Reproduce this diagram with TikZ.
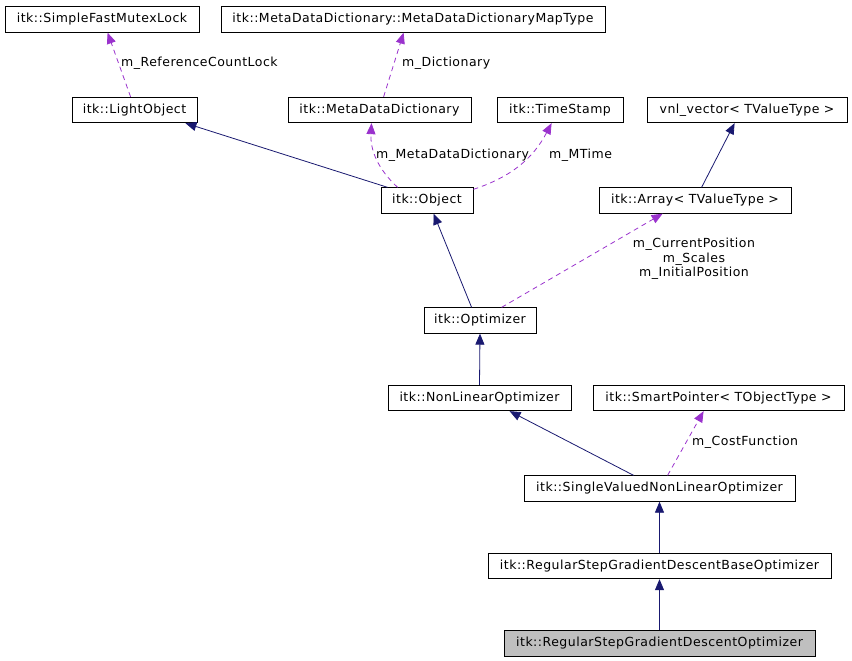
\documentclass[tikz,border=0pt]{standalone}
\usepackage{fontspec}
\setmainfont{DejaVu Sans}[LetterSpace=4]
\usetikzlibrary{arrows.meta}
\definecolor{inhblue}{HTML}{191970}
\definecolor{usepurple}{HTML}{9A32CD}

\begin{document}
\begin{tikzpicture}[x=1pt, y=-1pt,
    cls/.style={draw, line width=0.8pt, minimum height=25.5pt, inner sep=0pt,
                font=\fontsize{12.5}{15}\selectfont},
    lbl/.style={inner sep=0pt, font=\fontsize{12.5}{15}\selectfont},
    inherit/.style={draw=inhblue, line width=0.8pt, -{Triangle[length=11pt, width=9pt]}},
    member/.style={draw=usepurple, line width=0.8pt, dash pattern=on 5pt off 4pt,
                   -{Triangle[length=11pt, width=9pt]}}]
    \useasboundingbox (0,0) rectangle (852,661);

    % classes
    \node[cls, minimum width=194pt] (mutex) at (102,19.5) {itk::SimpleFastMutexLock};
    \node[cls, minimum width=384pt] (maptype) at (413,19.5) {itk::MetaDataDictionary::MetaDataDictionaryMapType};
    \node[cls, minimum width=125pt] (light) at (134.5,110) {itk::LightObject};
    \node[cls, minimum width=183pt] (mdd) at (379.5,110) {itk::MetaDataDictionary};
    \node[cls, minimum width=126pt] (stamp) at (560,110) {itk::TimeStamp};
    \node[cls, minimum width=200pt] (vnl) at (747,110) {vnl\_vector< TValueType >};
    \node[cls, minimum width=92pt] (obj) at (427,200.5) {itk::Object};
    \node[cls, minimum width=192pt] (arr) at (695,200.5) {itk::Array< TValueType >};
    \node[cls, minimum width=112pt] (opt) at (480,320.5) {itk::Optimizer};
    \node[cls, minimum width=183pt] (nonlin) at (479.5,398) {itk::NonLinearOptimizer};
    \node[cls, minimum width=251pt] (smart) at (718.5,398) {itk::SmartPointer< TObjectType >};
    \node[cls, minimum width=271pt] (single) at (659.5,488.5) {itk::SingleValuedNonLinearOptimizer};
    \node[cls, minimum width=343pt] (base) at (659.5,566) {itk::RegularStepGradientDescentBaseOptimizer};
    \node[cls, minimum width=311pt, fill=black!25] (regstep) at (659.5,643.5) {itk::RegularStepGradientDescentOptimizer};

    % inheritance
    \draw[inherit] ([xshift=7pt]obj.north west) -- ([xshift=-12pt]light.south east);
    \draw[inherit] ([xshift=103pt]arr.north west) -- ([xshift=88pt]vnl.south west);
    \draw[inherit] ([xshift=48pt]opt.north west) -- ([xshift=53pt]obj.south west);
    \draw[inherit] (nonlin.north) -- (opt.south);
    \draw[inherit] ([xshift=110pt]single.north west) -- ([xshift=122pt]nonlin.south west);
    \draw[inherit] (base.north) -- (single.south);
    \draw[inherit] (regstep.north) -- (base.south);

    % members
    \draw[member] ([xshift=59pt]light.north west) -- ([xshift=103pt]mutex.south west);
    \node[lbl, anchor=west] (lrefcount) at (121,63) {m\_ReferenceCountLock};
    \draw[member] ([xshift=96pt]mdd.north west) -- ([xshift=183pt]maptype.south west);
    \node[lbl, anchor=west] (ldict) at (402,63) {m\_Dictionary};
    \draw[member] ([xshift=17pt]obj.north west) to[bend left=25] ([xshift=-8pt]mdd.south);
    \node[lbl, anchor=west] (lmdd) at (376,155) {m\_MetaDataDictionary};
    \draw[member] ([yshift=-2pt]obj.north east) to[bend right=22] ([xshift=55pt]stamp.south west);
    \node[lbl, anchor=west] (lmtime) at (549,155) {m\_MTime};
    \draw[member] ([xshift=78pt]opt.north west) -- ([xshift=64pt]arr.south west);
    \node[lbl, align=center, font=\fontsize{12.5}{14.5}\selectfont] (lpos) at (694,259)
        {m\_CurrentPosition\\m\_Scales\\m\_InitialPosition};
    \draw[member] ([xshift=144pt]single.north west) -- ([xshift=111pt]smart.south west);
    \node[lbl, anchor=west] (lcost) at (692,442) {m\_CostFunction};
\end{tikzpicture}
\end{document}
